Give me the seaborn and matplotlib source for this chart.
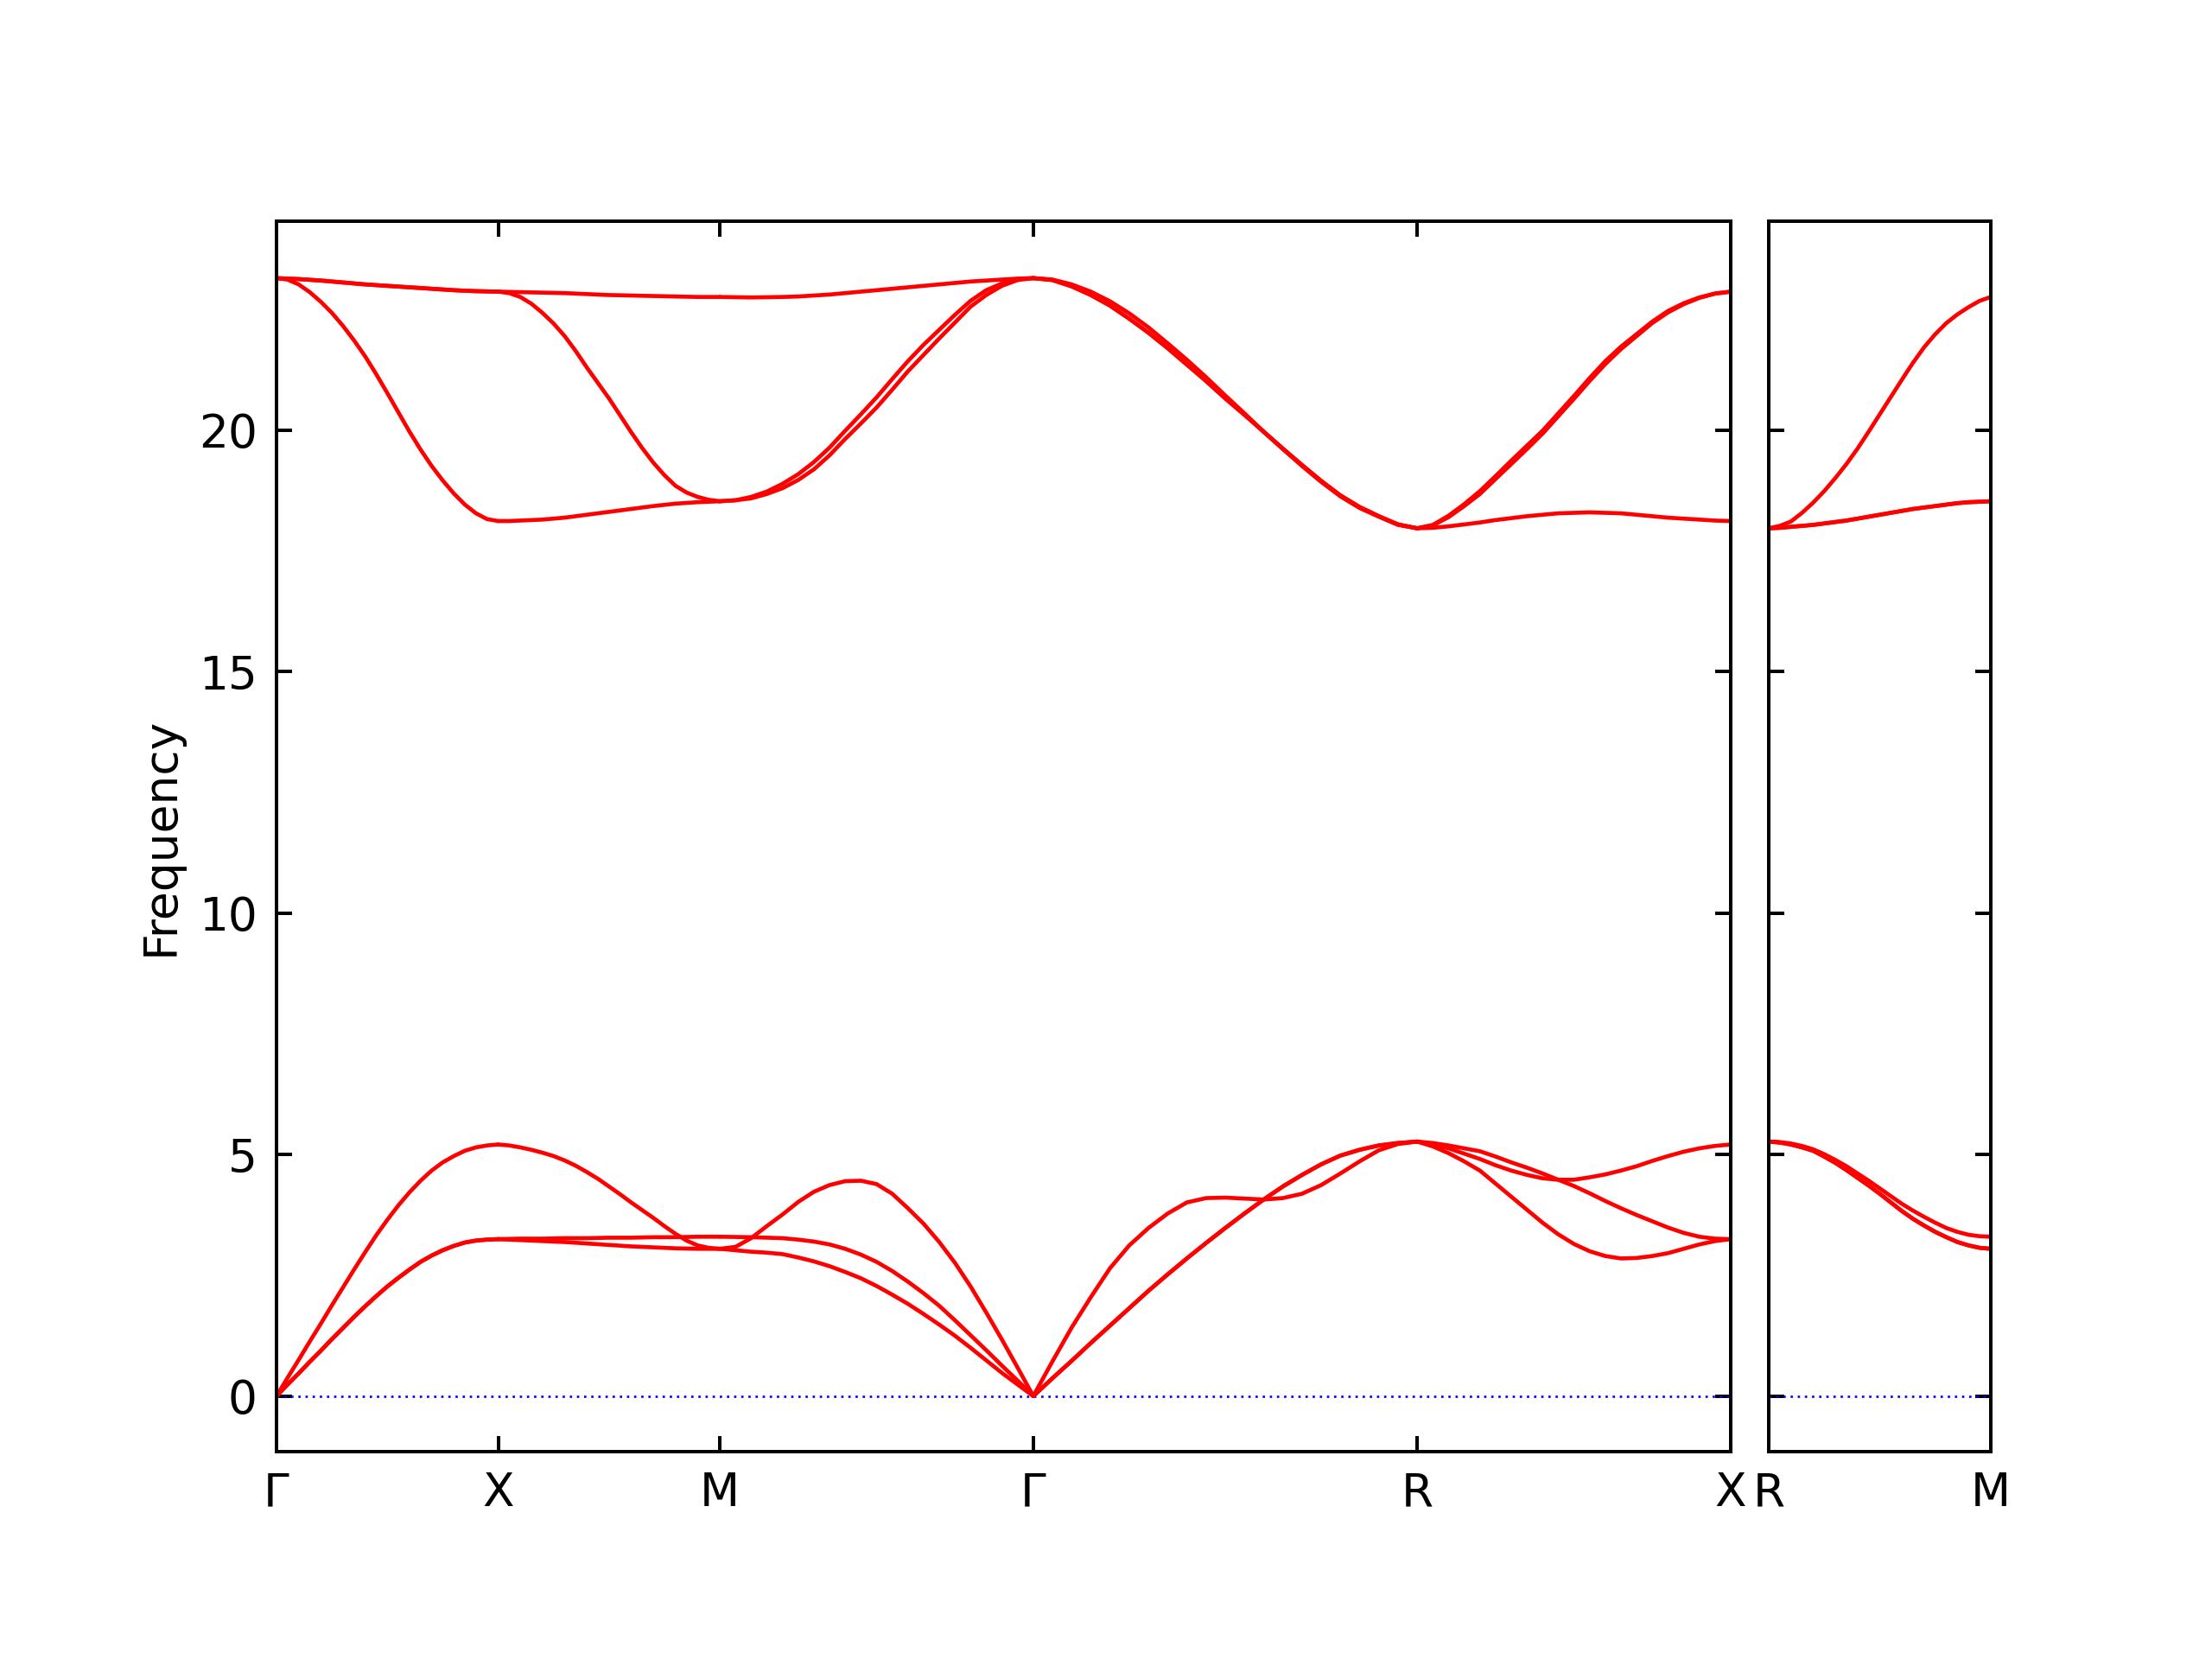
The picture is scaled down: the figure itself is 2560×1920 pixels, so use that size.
import numpy as np
import pandas as pd
import matplotlib
matplotlib.use("Agg")
import matplotlib.pyplot as plt
import seaborn as sns

T = [0.00, 0.05, 0.10, 0.15, 0.20, 0.25, 0.30, 0.35, 0.40, 0.45, 0.50,
     0.55, 0.60, 0.65, 0.70, 0.75, 0.80, 0.85, 0.90, 0.95, 1.00]

# Gamma -> X  (3 acoustic + 3 optical branches)
gamma_x = [
    [0.00, 0.24, 0.47, 0.71, 0.94, 1.18, 1.41, 1.64, 1.86, 2.07, 2.27,
     2.45, 2.62, 2.78, 2.91, 3.02, 3.11, 3.18, 3.22, 3.24, 3.25],
    [0.00, 0.24, 0.47, 0.71, 0.94, 1.18, 1.41, 1.64, 1.86, 2.07, 2.27,
     2.45, 2.62, 2.78, 2.91, 3.02, 3.11, 3.18, 3.22, 3.24, 3.25],
    [0.00, 0.38, 0.75, 1.13, 1.50, 1.88, 2.25, 2.62, 2.98, 3.33, 3.65,
     3.95, 4.22, 4.46, 4.67, 4.84, 4.97, 5.08, 5.15, 5.19, 5.21],
    [23.15, 23.12, 23.02, 22.86, 22.66, 22.43, 22.16, 21.86, 21.53, 21.16, 20.77,
     20.37, 19.97, 19.60, 19.26, 18.96, 18.69, 18.46, 18.28, 18.16, 18.12],
    [23.15, 23.14, 23.13, 23.115, 23.10, 23.08, 23.06, 23.04, 23.02, 23.005, 22.99,
     22.975, 22.96, 22.945, 22.93, 22.915, 22.90, 22.89, 22.88, 22.875, 22.87],
    [23.15, 23.14, 23.13, 23.115, 23.10, 23.08, 23.06, 23.04, 23.02, 23.005, 22.99,
     22.975, 22.96, 22.945, 22.93, 22.915, 22.90, 22.89, 22.88, 22.875, 22.87],
]

# X -> M
x_m = [
    [3.25, 3.255, 3.26, 3.26, 3.26, 3.265, 3.27, 3.27, 3.27, 3.275, 3.28,
     3.28, 3.28, 3.285, 3.29, 3.29, 3.29, 3.295, 3.30, 3.30, 3.30],
    [3.25, 3.24, 3.23, 3.22, 3.21, 3.20, 3.19, 3.175, 3.16, 3.145, 3.13,
     3.115, 3.10, 3.09, 3.08, 3.07, 3.06, 3.055, 3.05, 3.05, 3.05],
    [5.21, 5.19, 5.15, 5.10, 5.04, 4.97, 4.88, 4.77, 4.64, 4.50, 4.34,
     4.18, 4.01, 3.85, 3.69, 3.52, 3.36, 3.22, 3.12, 3.07, 3.05],
    [18.12, 18.12, 18.13, 18.14, 18.15, 18.17, 18.19, 18.22, 18.25, 18.28, 18.31,
     18.34, 18.37, 18.40, 18.43, 18.455, 18.48, 18.495, 18.51, 18.52, 18.53],
    [22.87, 22.84, 22.76, 22.62, 22.43, 22.21, 21.95, 21.64, 21.30, 20.98, 20.66,
     20.31, 19.96, 19.63, 19.33, 19.07, 18.85, 18.71, 18.62, 18.56, 18.53],
    [22.87, 22.865, 22.86, 22.855, 22.85, 22.845, 22.84, 22.83, 22.82, 22.81, 22.80,
     22.795, 22.79, 22.785, 22.78, 22.775, 22.77, 22.765, 22.76, 22.76, 22.76],
]

# M -> Gamma
m_gamma = [
    [3.05, 3.02, 2.99, 2.97, 2.94, 2.87, 2.79, 2.69, 2.57, 2.44, 2.28,
     2.10, 1.91, 1.70, 1.48, 1.25, 1.00, 0.74, 0.48, 0.24, 0.00],
    [3.30, 3.295, 3.29, 3.28, 3.27, 3.24, 3.20, 3.14, 3.05, 2.93, 2.78,
     2.59, 2.37, 2.13, 1.87, 1.57, 1.26, 0.95, 0.63, 0.32, 0.00],
    [3.05, 3.09, 3.27, 3.52, 3.76, 4.02, 4.23, 4.37, 4.45, 4.46, 4.39,
     4.19, 3.89, 3.57, 3.19, 2.76, 2.27, 1.73, 1.17, 0.59, 0.00],
    [18.53, 18.55, 18.62, 18.73, 18.89, 19.09, 19.34, 19.64, 19.99, 20.33, 20.68,
     21.06, 21.43, 21.77, 22.08, 22.39, 22.68, 22.90, 23.04, 23.13, 23.15],
    [18.53, 18.55, 18.59, 18.68, 18.80, 18.97, 19.19, 19.48, 19.82, 20.14, 20.47,
     20.84, 21.22, 21.56, 21.90, 22.23, 22.56, 22.80, 22.99, 23.11, 23.15],
    [22.76, 22.755, 22.75, 22.755, 22.76, 22.77, 22.79, 22.81, 22.84, 22.87, 22.90,
     22.93, 22.96, 22.99, 23.02, 23.05, 23.08, 23.10, 23.12, 23.14, 23.15],
]

# Gamma -> R
gamma_r = [
    [0.00, 0.37, 0.73, 1.10, 1.46, 1.82, 2.18, 2.52, 2.85, 3.17, 3.48,
     3.78, 4.07, 4.34, 4.58, 4.80, 4.98, 5.10, 5.19, 5.24, 5.27],
    [0.00, 0.37, 0.73, 1.10, 1.46, 1.82, 2.18, 2.52, 2.85, 3.17, 3.48,
     3.78, 4.07, 4.34, 4.58, 4.80, 4.98, 5.10, 5.19, 5.24, 5.27],
    [0.00, 0.72, 1.42, 2.05, 2.65, 3.12, 3.48, 3.78, 4.01, 4.10, 4.11,
     4.09, 4.07, 4.10, 4.19, 4.37, 4.61, 4.86, 5.09, 5.22, 5.27],
    [23.15, 23.12, 23.02, 22.87, 22.67, 22.42, 22.13, 21.80, 21.46, 21.10, 20.72,
     20.35, 19.97, 19.61, 19.26, 18.93, 18.63, 18.39, 18.21, 18.04, 17.97],
    [23.15, 23.11, 22.98, 22.80, 22.58, 22.31, 22.02, 21.70, 21.36, 21.02, 20.66,
     20.32, 19.97, 19.62, 19.28, 18.95, 18.65, 18.41, 18.22, 18.05, 17.97],
    [23.15, 23.11, 22.98, 22.80, 22.58, 22.31, 22.02, 21.70, 21.36, 21.02, 20.66,
     20.32, 19.97, 19.62, 19.28, 18.95, 18.65, 18.41, 18.22, 18.05, 17.97],
]

# R -> X
r_x = [
    [5.27, 5.24, 5.19, 5.13, 5.07, 4.96, 4.84, 4.73, 4.61, 4.48, 4.35,
     4.20, 4.04, 3.89, 3.75, 3.62, 3.49, 3.38, 3.30, 3.26, 3.25],
    [5.27, 5.21, 5.13, 5.02, 4.91, 4.78, 4.67, 4.58, 4.51, 4.48, 4.48,
     4.53, 4.59, 4.67, 4.76, 4.87, 4.97, 5.06, 5.13, 5.18, 5.21],
    [5.27, 5.17, 5.03, 4.86, 4.67, 4.40, 4.13, 3.86, 3.59, 3.35, 3.15,
     3.00, 2.90, 2.85, 2.86, 2.90, 2.96, 3.05, 3.14, 3.21, 3.25],
    [17.97, 17.98, 18.01, 18.05, 18.09, 18.14, 18.18, 18.22, 18.25, 18.28, 18.29,
     18.30, 18.29, 18.28, 18.25, 18.22, 18.19, 18.17, 18.15, 18.13, 18.12],
    [17.97, 18.04, 18.23, 18.47, 18.74, 19.05, 19.37, 19.68, 19.99, 20.35, 20.71,
     21.08, 21.43, 21.73, 21.99, 22.25, 22.47, 22.63, 22.75, 22.83, 22.87],
    [17.97, 18.03, 18.20, 18.43, 18.68, 18.99, 19.30, 19.61, 19.93, 20.29, 20.65,
     21.02, 21.37, 21.68, 21.95, 22.22, 22.44, 22.61, 22.74, 22.83, 22.87],
]

# R -> M (separate panel)
r_m = [
    [5.27, 5.26, 5.23, 5.18, 5.11, 5.01, 4.89, 4.76, 4.61, 4.46, 4.30,
     4.14, 3.98, 3.84, 3.71, 3.59, 3.48, 3.40, 3.34, 3.31, 3.30],
    [5.27, 5.25, 5.21, 5.15, 5.08, 4.96, 4.83, 4.68, 4.52, 4.36, 4.19,
     4.01, 3.83, 3.67, 3.53, 3.40, 3.29, 3.19, 3.12, 3.07, 3.05],
    [5.27, 5.25, 5.21, 5.15, 5.08, 4.96, 4.83, 4.68, 4.52, 4.36, 4.19,
     4.01, 3.83, 3.67, 3.53, 3.40, 3.29, 3.19, 3.12, 3.07, 3.05],
    [17.97, 18.02, 18.11, 18.29, 18.50, 18.74, 19.01, 19.30, 19.62, 19.97, 20.33,
     20.69, 21.05, 21.40, 21.72, 21.99, 22.22, 22.40, 22.55, 22.68, 22.76],
    [17.97, 17.98, 18.00, 18.02, 18.04, 18.07, 18.10, 18.13, 18.17, 18.21, 18.25,
     18.29, 18.33, 18.37, 18.40, 18.43, 18.46, 18.49, 18.51, 18.52, 18.53],
    [17.97, 17.98, 18.00, 18.02, 18.04, 18.07, 18.10, 18.13, 18.17, 18.21, 18.25,
     18.29, 18.33, 18.37, 18.40, 18.43, 18.46, 18.49, 18.51, 18.52, 18.53],
]

path_labels = ["Γ", "X", "M", "Γ", "R", "X"]
seg_lengths = [1.0, 1.0, np.sqrt(2), np.sqrt(3), np.sqrt(2)]
side_labels = ["R", "M"]
y_ticks = [0, 5, 10, 15, 20]


def to_frame(segments, lengths):
    rows = []
    start = 0.0
    for i, (bands, length) in enumerate(zip(segments, lengths)):
        for b, vals in enumerate(bands):
            for t, f in zip(T, vals):
                rows.append({"k": start + t * length, "freq": f, "curve": f"{i}-{b}"})
        start += length
    return pd.DataFrame(rows)


df_main = to_frame([gamma_x, x_m, m_gamma, gamma_r, r_x], seg_lengths)
df_side = to_frame([r_m], [1.0])

sns.set_style("white")
plt.rcParams["font.family"] = ["DejaVu Sans"]
plt.rcParams["font.size"] = 12
plt.rcParams["text.color"] = "black"
plt.rcParams["axes.labelcolor"] = "black"
plt.rcParams["xtick.color"] = "black"
plt.rcParams["ytick.color"] = "black"

fig = plt.figure(figsize=(8, 6), dpi=320)
ax = fig.add_axes([0.125, 0.125, 0.6574, 0.7417])
ax2 = fig.add_axes([0.7996, 0.125, 0.1004, 0.7417])

ticks_main = np.concatenate([[0.0], np.cumsum(seg_lengths)])
zero_style = dict(color="blue", lw=0.6, ls=(0, (1, 2.1)), zorder=1)

for a, df, ticks, labels in [(ax, df_main, ticks_main, path_labels),
                             (ax2, df_side, [0.0, 1.0], side_labels)]:
    a.axhline(0, **zero_style)
    sns.lineplot(data=df, x="k", y="freq", units="curve", estimator=None,
                 sort=False, color="red", lw=1.05, ax=a, zorder=2)
    a.set_xlim(ticks[0], ticks[-1])
    a.set_ylim(-1.15, 24.33)
    a.set_xticks(ticks)
    a.set_xticklabels(labels)
    a.set_yticks(y_ticks)
    a.set_xlabel("")
    a.set_ylabel("")
    a.tick_params(direction="in", length=4, width=0.9, pad=5, labelsize=12,
                  top=True, right=True, bottom=True, left=True,
                  color="black", labelcolor="black")
    for sp in a.spines.values():
        sp.set_linewidth(0.9)
        sp.set_color("black")

ax.set_ylabel("Frequency", fontsize=12, color="black")
ax2.tick_params(labelleft=False)

fig.savefig("out.png", dpi=320)
